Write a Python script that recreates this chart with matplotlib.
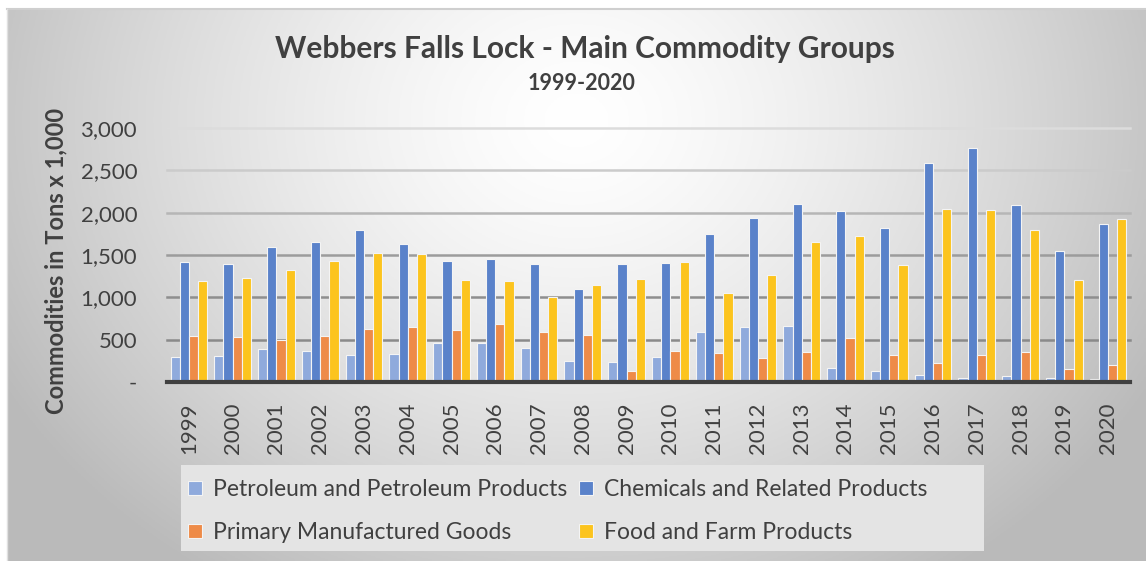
import numpy as np
import matplotlib
matplotlib.use("Agg")
import matplotlib.pyplot as plt
from matplotlib.patches import Rectangle

plt.rcParams["font.family"] = ["Lato", "DejaVu Sans"]

# Данные (тыс. тонн)
years = [str(y) for y in range(1999, 2021)]
petroleum = [292, 303, 390, 366, 315, 331, 464, 464, 402, 252, 236,
             292, 590, 646, 665, 161, 130, 79, 47, 75, 47, 35]
chemicals = [1413, 1393, 1590, 1650, 1791, 1626, 1425, 1453, 1397, 1094, 1397,
             1401, 1748, 1933, 2106, 2016, 1815, 2583, 2764, 2087, 1551, 1862]
primary = [543, 528, 492, 547, 626, 646, 614, 685, 590, 551, 126,
           362, 342, 283, 354, 524, 319, 220, 323, 350, 153, 197]
food = [1197, 1232, 1323, 1425, 1520, 1512, 1201, 1193, 1000, 1146, 1213,
        1413, 1051, 1260, 1650, 1728, 1378, 2039, 2028, 1795, 1209, 1929]

series_names = ["Petroleum and Petroleum Products", "Chemicals and Related Products",
                "Primary Manufactured Goods", "Food and Farm Products"]
series_values = [petroleum, chemicals, primary, food]
colors = ["#8FAADC", "#5A82CA", "#EE8B48", "#FCC41E"]

W, H = 1146, 561
fig = plt.figure(figsize=(W / 100, H / 100), dpi=100)
fig.patch.set_facecolor("white")

# фон с радиальным градиентом
bg = fig.add_axes([7 / W, 0, 1 - 7 / W, 1 - 9 / H], zorder=0)
gx, gy = np.meshgrid(np.linspace(0, 1, 400), np.linspace(0, 1, 200))
d = np.sqrt(((gx - 0.5) / 0.58) ** 2 + ((gy - 0.2) / 1.0) ** 2)
d = np.clip(d, 0, 1)
shade = 1 - 0.27 * d ** 1.4
bg.imshow(np.dstack([shade] * 3), aspect="auto", extent=(0, 1, 1, 0))
bg.set_axis_off()
fig.add_artist(plt.Line2D([7 / W, 1], [1 - 9 / H] * 2, color="#cfcfcf", lw=1.5, zorder=0.5))
fig.add_artist(plt.Line2D([7 / W] * 2, [0, 1 - 9 / H], color="#e0e0e0", lw=1, zorder=0.5))

# подложка легенды
fig.add_artist(Rectangle((181 / W, 1 - 551 / H), (984 - 181) / W, (551 - 465) / H,
                         transform=fig.transFigure, facecolor="#e4e4e4",
                         edgecolor="none", zorder=0.5))

ax = fig.add_axes([167 / W, 1 - 382 / H, (1130 - 167) / W, (382 - 128) / H], zorder=1)
ax.set_facecolor("none")

x = np.arange(len(years))
w = 0.21
for k, (name, vals, col) in enumerate(zip(series_names, series_values, colors)):
    ax.bar(x + (k - 1.5) * w, vals, width=w, color=col, edgecolor="#f4f4f4",
           linewidth=0.8, label=name, zorder=3)

# линии сетки
grid_levels = [500, 1000, 1500, 2000, 2500, 3000]
grid_colors = ["#8a8a8a", "#8e8e8e", "#9c9c9c", "#b6b6b6", "#cbcbcb", "#dcdcdc"]
for lv, gc in zip(grid_levels, grid_colors):
    ax.axhline(lv, color=gc, lw=1.8, zorder=1, clip_on=False)
ax.axhline(0, color="#404040", lw=3, zorder=4, clip_on=False)

ax.set_xlim(-0.5, len(years) - 0.5)
ax.set_ylim(0, 3000)
ax.set_yticks([0] + grid_levels)
ax.set_yticklabels(["-"] + [f"{v:,}" for v in grid_levels])
ax.set_xticks(x)
ax.set_xticklabels(years, rotation=90)
ax.tick_params(axis="both", length=0, labelsize=16, colors="#404040")
ax.tick_params(axis="y", pad=21.5)
ax.tick_params(axis="x", pad=15)
for s in ax.spines.values():
    s.set_visible(False)

ax.set_ylabel("Commodities in Tons x 1,000", fontsize=17, fontweight="bold",
              color="#404040")
ax.yaxis.set_label_coords(-0.103, 0.475)

fig.text(585 / W, 1 - 49 / H, "Webbers Falls Lock - Main Commodity Groups",
         ha="center", va="center", fontsize=21.5, fontweight="bold", color="#404040")
fig.text(582 / W, 1 - 84 / H, "1999-2020", ha="center", va="center",
         fontsize=15.5, fontweight="bold", color="#404040")

# легенда
handles, labels = ax.get_legend_handles_labels()
order = [0, 2, 1, 3]
leg = fig.legend([handles[i] for i in order], [labels[i] for i in order],
                 loc="center left", bbox_to_anchor=(188 / W, 1 - 511 / H),
                 ncol=2, frameon=False, fontsize=16.5, handlelength=0.6,
                 handleheight=0.6, handletextpad=0.5, columnspacing=0.5,
                 labelspacing=0.97, borderpad=0, borderaxespad=0)
leg.set_zorder(2)
for t in leg.get_texts():
    t.set_color("#404040")

plt.savefig("out.png", dpi=100)
plt.close()
